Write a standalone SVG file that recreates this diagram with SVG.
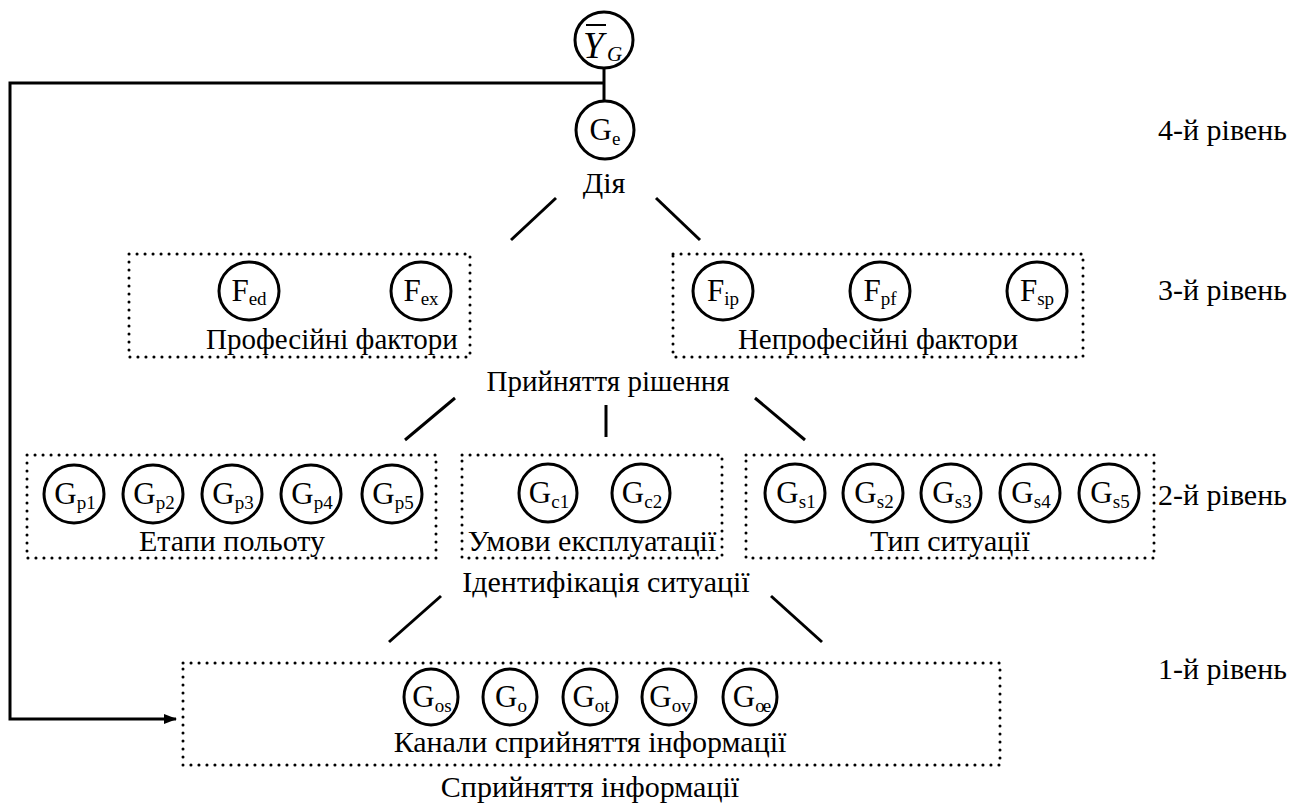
<svg xmlns="http://www.w3.org/2000/svg" width="1312" height="805" viewBox="0 0 1312 805">
<style>
  .n { fill: #fff; stroke: #000; stroke-width: 3; }
  .box { fill: none; stroke: #000; stroke-width: 3; stroke-dasharray: 0.1 7.9; stroke-linecap: round; }
  .ln { fill: none; stroke: #000; stroke-width: 3; }
  .t { font-size: 30px; }
  .t29 { font-size: 29px; }
  .lbl { font-size: 31px; text-anchor: middle; }
  .sub { font-size: 19px; }
  .c { text-anchor: middle; }
</style>
<defs>
  <marker id="arr" markerWidth="13" markerHeight="10" refX="12" refY="5" orient="auto" markerUnits="userSpaceOnUse">
    <path d="M0,0 L13,5 L0,10 Z" fill="#000"/>
  </marker>
</defs>
<rect width="1312" height="805" fill="#fff"/>

<g id="connectors">
  <line class="ln" x1="604" y1="69" x2="604" y2="101"/>
  <polyline class="ln" points="604,83 10,83 10,719 176,719" marker-end="url(#arr)"/>
  <line class="ln" x1="556" y1="198" x2="511" y2="240"/>
  <line class="ln" x1="656" y1="198" x2="700" y2="240"/>
  <line class="ln" x1="455" y1="398" x2="405" y2="440"/>
  <line class="ln" x1="606" y1="405" x2="606" y2="437"/>
  <line class="ln" x1="755" y1="398" x2="805" y2="440"/>
  <line class="ln" x1="441" y1="596" x2="389" y2="642"/>
  <line class="ln" x1="771" y1="596" x2="822" y2="642"/>
</g>

<g font-family="Liberation Serif, 'Times New Roman', serif" fill="#000">
<g id="Y_G">
  <ellipse class="n" cx="604" cy="40" rx="29" ry="28"/>
  <line x1="586" y1="25" x2="606" y2="25" stroke="#000" stroke-width="2"/>
  <text x="583" y="58" font-style="italic" font-size="37">Y</text>
  <text x="607" y="61" font-style="italic" font-size="21">G</text>
</g>

<g id="level4">
  <g id="G_e">
    <ellipse class="n" cx="605" cy="130" rx="29" ry="29"/>
    <text class="lbl" x="605" y="140">G<tspan class="sub" dy="5">e</tspan></text>
  </g>
  <text class="t c" x="604" y="193">Дія</text>
  <text class="t" x="1158" y="140">4-й рівень</text>
</g>

<g id="level3">
  <g id="box_prof">
    <rect class="box" x="129" y="254" width="341" height="103"/>
    <g id="F_ed"><ellipse class="n" cx="249" cy="291" rx="30" ry="29"/><text class="lbl" x="249" y="301">F<tspan class="sub" dy="4">ed</tspan></text></g>
    <g id="F_ex"><ellipse class="n" cx="421" cy="291" rx="30" ry="29"/><text class="lbl" x="421" y="301">F<tspan class="sub" dy="4">ex</tspan></text></g>
    <text class="t29" x="206" y="349">Професійні фактори</text>
  </g>
  <g id="box_nonprof">
    <rect class="box" x="673" y="254" width="410" height="103"/>
    <g id="F_ip"><ellipse class="n" cx="723" cy="291" rx="30" ry="29"/><text class="lbl" x="723" y="301">F<tspan class="sub" dy="4">ip</tspan></text></g>
    <g id="F_pf"><ellipse class="n" cx="880" cy="291" rx="30" ry="29"/><text class="lbl" x="880" y="301">F<tspan class="sub" dy="4">pf</tspan></text></g>
    <g id="F_sp"><ellipse class="n" cx="1037" cy="291" rx="30" ry="29"/><text class="lbl" x="1037" y="301">F<tspan class="sub" dy="4">sp</tspan></text></g>
    <text class="t29 c" x="878" y="349">Непрофесійні фактори</text>
  </g>
  <text class="t29 c" x="608" y="391">Прийняття рішення</text>
  <text class="t" x="1158" y="300">3-й рівень</text>
</g>

<g id="level2">
  <g id="box_stages">
    <rect class="box" x="27" y="455" width="409" height="103"/>
    <g id="G_p1"><ellipse class="n" cx="74" cy="494" rx="30" ry="29"/><text class="lbl" x="75" y="504">G<tspan class="sub" dy="5">p1</tspan></text></g>
    <g id="G_p2"><ellipse class="n" cx="153" cy="494" rx="30" ry="29"/><text class="lbl" x="154" y="504">G<tspan class="sub" dy="5">p2</tspan></text></g>
    <g id="G_p3"><ellipse class="n" cx="232" cy="494" rx="30" ry="29"/><text class="lbl" x="233" y="504">G<tspan class="sub" dy="5">p3</tspan></text></g>
    <g id="G_p4"><ellipse class="n" cx="311" cy="494" rx="30" ry="29"/><text class="lbl" x="312" y="504">G<tspan class="sub" dy="5">p4</tspan></text></g>
    <g id="G_p5"><ellipse class="n" cx="392" cy="494" rx="30" ry="29"/><text class="lbl" x="393" y="504">G<tspan class="sub" dy="5">p5</tspan></text></g>
    <text class="t c" x="232" y="551">Етапи польоту</text>
  </g>
  <g id="box_cond">
    <rect class="box" x="462" y="455" width="260" height="103"/>
    <g id="G_c1"><ellipse class="n" cx="548" cy="493" rx="29" ry="29"/><text class="lbl" x="549" y="503">G<tspan class="sub" dy="5">c1</tspan></text></g>
    <g id="G_c2"><ellipse class="n" cx="641" cy="493" rx="29" ry="29"/><text class="lbl" x="642" y="503">G<tspan class="sub" dy="5">c2</tspan></text></g>
    <text class="t c" x="592" y="551">Умови експлуатації</text>
  </g>
  <g id="box_type">
    <rect class="box" x="746" y="455" width="408" height="103"/>
    <g id="G_s1"><ellipse class="n" cx="795" cy="493" rx="30" ry="29"/><text class="lbl" x="796" y="503">G<tspan class="sub" dy="5">s1</tspan></text></g>
    <g id="G_s2"><ellipse class="n" cx="873" cy="493" rx="30" ry="29"/><text class="lbl" x="874" y="503">G<tspan class="sub" dy="5">s2</tspan></text></g>
    <g id="G_s3"><ellipse class="n" cx="951" cy="493" rx="30" ry="29"/><text class="lbl" x="952" y="503">G<tspan class="sub" dy="5">s3</tspan></text></g>
    <g id="G_s4"><ellipse class="n" cx="1030" cy="493" rx="30" ry="29"/><text class="lbl" x="1031" y="503">G<tspan class="sub" dy="5">s4</tspan></text></g>
    <g id="G_s5"><ellipse class="n" cx="1109" cy="493" rx="30" ry="29"/><text class="lbl" x="1110" y="503">G<tspan class="sub" dy="5">s5</tspan></text></g>
    <text class="t c" x="950" y="551">Тип ситуації</text>
  </g>
  <text class="t c" x="606" y="592">Ідентифікація ситуації</text>
  <text class="t" x="1158" y="505">2-й рівень</text>
</g>

<g id="level1">
  <g id="box_channels">
    <rect class="box" x="183" y="663" width="817" height="102"/>
    <g id="G_os"><ellipse class="n" cx="431" cy="697" rx="27" ry="28"/><text class="lbl" x="432" y="707">G<tspan class="sub" dy="5">os</tspan></text></g>
    <g id="G_o"><ellipse class="n" cx="510" cy="697" rx="27" ry="28"/><text class="lbl" x="511" y="707">G<tspan class="sub" dy="5">o</tspan></text></g>
    <g id="G_ot"><ellipse class="n" cx="590" cy="697" rx="27" ry="28"/><text class="lbl" x="591" y="707">G<tspan class="sub" dy="5">ot</tspan></text></g>
    <g id="G_ov"><ellipse class="n" cx="669" cy="697" rx="27" ry="28"/><text class="lbl" x="670" y="707">G<tspan class="sub" dy="5">ov</tspan></text></g>
    <g id="G_oe"><ellipse class="n" cx="750" cy="697" rx="27" ry="28"/><text class="lbl" x="751" y="707">G<tspan class="sub" dy="5" letter-spacing="-2">oe</tspan></text></g>
    <text class="t c" x="590" y="752">Канали сприйняття інформації</text>
  </g>
  <text class="t c" x="590" y="797">Сприйняття інформації</text>
  <text class="t" x="1158" y="679">1-й рівень</text>
</g>
</g>
</svg>
